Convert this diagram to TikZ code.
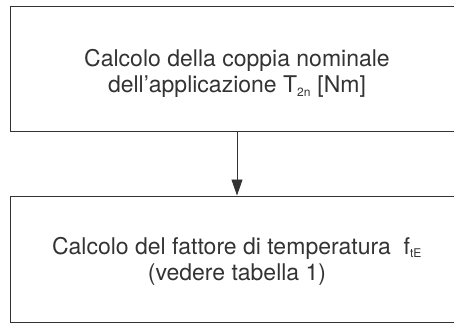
\documentclass[tikz,border=0pt]{standalone}
\usepackage{fontspec}
\setmainfont{TeX Gyre Heros}
\usetikzlibrary{arrows.meta}
\definecolor{ink}{HTML}{333333}
\newcommand{\smallsub}[1]{\textsubscript{\fontsize{12}{12}\selectfont #1}}
\begin{document}
\begin{tikzpicture}[x=1pt,y=1pt,
  boxstyle/.style={draw=ink, line width=1pt, rectangle, minimum width=454pt, inner sep=0pt},
  txt/.style={font=\fontsize{23}{26}\selectfont, text=ink, align=center, inner sep=0pt},
  conn/.style={draw=ink, line width=0.9pt, -{Triangle[length=16pt,width=11pt]}}]
\useasboundingbox (0,0) rectangle (454,-324);
\node[boxstyle, minimum height=125pt] (box1) at (237,-68.5) {};
\node[boxstyle, minimum height=126pt] (box2) at (237,-259) {};
\node[txt] (t1) at (237,-73.5) {Calcolo della coppia nominale\\dell’applicazione T\smallsub{2n} [Nm]};
\node[txt] (t2) at (237,-261) {Calcolo del fattore di temperatura\ \ f\smallsub{tE}\\(vedere tabella 1)};
\draw[conn] (box1.south) -- (box2.north);
\end{tikzpicture}
\end{document}
